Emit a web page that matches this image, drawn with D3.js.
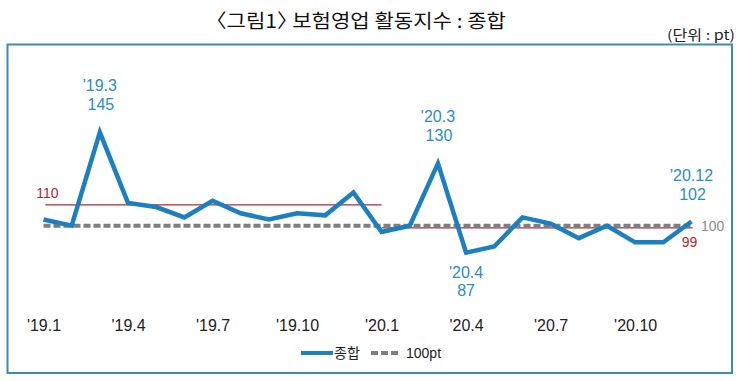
<!DOCTYPE html>
<html><head><meta charset="utf-8">
<script src="https://cdn.jsdelivr.net/npm/d3@7"></script>
<style>
body{margin:0;background:#fff;}
svg{display:block;}
.ttl{font-feature-settings:"halt";}
</style></head>
<body>
<svg id="c" width="742" height="381"></svg>
<script>
const months = ["'19.1","'19.2","'19.3","'19.4","'19.5","'19.6","'19.7","'19.8","'19.9","'19.10","'19.11","'19.12",
                "'20.1","'20.2","'20.3","'20.4","'20.5","'20.6","'20.7","'20.8","'20.9","'20.10","'20.11","'20.12"];
const values = [103,100,145,111,109,104,112,106,103,106,105,116,
                97,100,130,87,90,104,101,94,100,92,92,102];
const tickLabels = ["'19.1","'19.4","'19.7","'19.10","'20.1","'20.4","'20.7","'20.10"];
const baseline = 100;
const avg2019 = 110, avg2020 = 99;
const annotations = [
  {m:"'19.3", v:145, pos:"above"},
  {m:"'20.3", v:130, pos:"above"},
  {m:"'20.4", v:87, pos:"below"},
  {m:"'20.12", v:102, pos:"above"}
];
const seriesName = "종합", baseName = "100pt";
const title = "〈그림1〉 보험영업 활동지수 : 종합";
const unit = "(단위 : pt)";

const svg = d3.select("#c");
const font = "'Liberation Sans Narrow','Liberation Sans',Arial,sans-serif";
const kfont = "'Noto Sans CJK KR',sans-serif";
const x = d3.scalePoint().domain(months).range([43.5, 691.5]);
const y = d3.scaleLinear().domain([87,145]).range([252.7,132.3]);

// title
svg.append("text").attr("class","ttl").attr("x",216).attr("y",28)
  .attr("font-family",kfont).attr("font-size",19).attr("fill","#111")
  .attr("textLength",290).attr("lengthAdjust","spacingAndGlyphs")
  .text(title);
svg.append("text").attr("x",667).attr("y",40)
  .attr("font-family",kfont).attr("font-size",13.5).attr("fill","#222")
  .attr("textLength",68).attr("lengthAdjust","spacingAndGlyphs")
  .text(unit);
// frame
svg.append("rect").attr("x",7.5).attr("y",44.5).attr("width",724.5).attr("height",328.5)
  .attr("fill","none").attr("stroke","#3d8bb0").attr("stroke-width",2);

// average lines
const m19 = months.slice(0,12), m20 = months.slice(12);
svg.append("line").attr("x1",x(m19[0])+2).attr("x2",x(m20[0])).attr("y1",y(avg2019)).attr("y2",y(avg2019))
  .attr("stroke","#b0282d").attr("stroke-width",1.2);
svg.append("line").attr("x1",x(m20[0])).attr("x2",x(m20[11])+1).attr("y1",y(avg2020)).attr("y2",y(avg2020))
  .attr("stroke","#b0282d").attr("stroke-width",1.2);
svg.append("text").attr("x",x(m19[0])+4).attr("y",y(avg2019)-7).attr("text-anchor","middle")
  .attr("font-family",font).attr("font-size",14).attr("fill","#b0282d").text(avg2019);
svg.append("text").attr("x",x(m20[11])-2).attr("y",y(avg2020)+19).attr("text-anchor","middle")
  .attr("font-family",font).attr("font-size",14).attr("fill","#b0282d").text(avg2020);

// baseline
svg.append("line").attr("x1",x(months[0])).attr("x2",x(months[23])).attr("y1",y(baseline)).attr("y2",y(baseline))
  .attr("stroke","#7f7f7f").attr("stroke-width",4).attr("stroke-dasharray","7,3");
svg.append("text").attr("x",701).attr("y",y(baseline)+5).attr("font-family",font).attr("font-size",14)
  .attr("fill","#8c8c8c").text(baseline);

// series
const line = d3.line().x((d,i)=>x(months[i])).y(d=>y(d));
svg.append("path").datum(values).attr("d",line).attr("fill","none")
  .attr("stroke","#1b7fc0").attr("stroke-width",4.5).attr("stroke-linejoin","miter");

// annotations
annotations.forEach(a=>{
  const cx = x(a.m), cy = y(a.v);
  const g = svg.append("g").attr("font-family",font).attr("font-size",16).attr("fill","#2b8dc4").attr("text-anchor","middle");
  if(a.pos==="above"){
    g.append("text").attr("x",cx).attr("y",cy-41).text(a.m);
    g.append("text").attr("x",cx+1).attr("y",cy-22).text(a.v);
  } else {
    g.append("text").attr("x",cx).attr("y",cy+25).text(a.m);
    g.append("text").attr("x",cx).attr("y",cy+43).text(a.v);
  }
});

// x axis
const ax = svg.append("g").attr("transform","translate(0,315)")
  .call(d3.axisBottom(x).tickValues(tickLabels).tickSize(0).tickPadding(0));
ax.select(".domain").remove();
ax.selectAll("text").attr("font-family",font).attr("font-size",16).attr("fill","#222").attr("dy","1em");

// legend
const lg = svg.append("g").attr("font-family",kfont).attr("font-size",14).attr("fill","#222");
lg.append("line").attr("x1",301).attr("x2",333).attr("y1",353).attr("y2",353).attr("stroke","#1b7fc0").attr("stroke-width",4);
lg.append("text").attr("x",334).attr("y",358).text(seriesName);
lg.append("line").attr("x1",371).attr("x2",400).attr("y1",353).attr("y2",353).attr("stroke","#7f7f7f").attr("stroke-width",4).attr("stroke-dasharray","7,3");
lg.append("text").attr("x",406).attr("y",358).attr("font-family",font).text(baseName);
</script>
</body></html>
